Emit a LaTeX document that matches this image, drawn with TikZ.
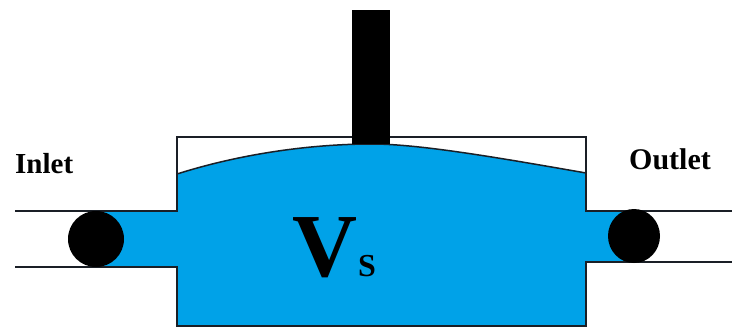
\documentclass[tikz,border=0pt]{standalone}
\usepackage{fontspec}
\setmainfont{Liberation Serif}
\definecolor{fluid}{HTML}{00A2E8}
\definecolor{wall}{HTML}{1A1F26}
\tikzset{
  wallline/.style={draw=wall,line width=1.8pt},
  label/.style={inner sep=0pt,anchor=base west,text=black},
}
\begin{document}
\begin{tikzpicture}[x=1pt,y=-1pt]
\path[use as bounding box,fill=white] (0,0) rectangle (732,329);
% fluid
\fill[fluid] (96,211) -- (177,211) -- (177,174)
  .. controls (240,154) and (310,144) .. (372,144)
  .. controls (420,144) and (500,158) .. (586,173)
  -- (586,211) -- (634,211) -- (634,262) -- (586,262) -- (586,326) -- (177,326) -- (177,267) -- (96,267) -- cycle;
% chamber walls
\draw[wallline,line join=miter] (15,211) -- (177,211) -- (177,137) -- (586,137) -- (586,211) -- (732,211);
\draw[wallline,line join=miter] (15,267) -- (177,267) -- (177,326) -- (586,326) -- (586,262) -- (732,262);
% free surface
\draw[draw=wall,line width=1.5pt] (177,174)
  .. controls (240,154) and (310,144) .. (372,144)
  .. controls (420,144) and (500,158) .. (586,173);
% piston rod
\fill[black] (352,10) rectangle (390,144);
% valves
\fill[black] (96,239) circle[radius=28];
\fill[black] (634,236) circle[x radius=26,y radius=27];
% labels
\node[label,font=\bfseries\fontsize{29}{29}\selectfont] (inlet) at (15,174) {Inlet};
\node[label,font=\bfseries\fontsize{30}{30}\selectfont] (outlet) at (629,169) {Outlet};
\node[label,font=\bfseries\fontsize{90}{90}\selectfont] (vee) at (292,276) {V};
\node[label,font=\bfseries\fontsize{32}{32}\selectfont] (ess) at (358,276) {S};
\end{tikzpicture}
\end{document}
